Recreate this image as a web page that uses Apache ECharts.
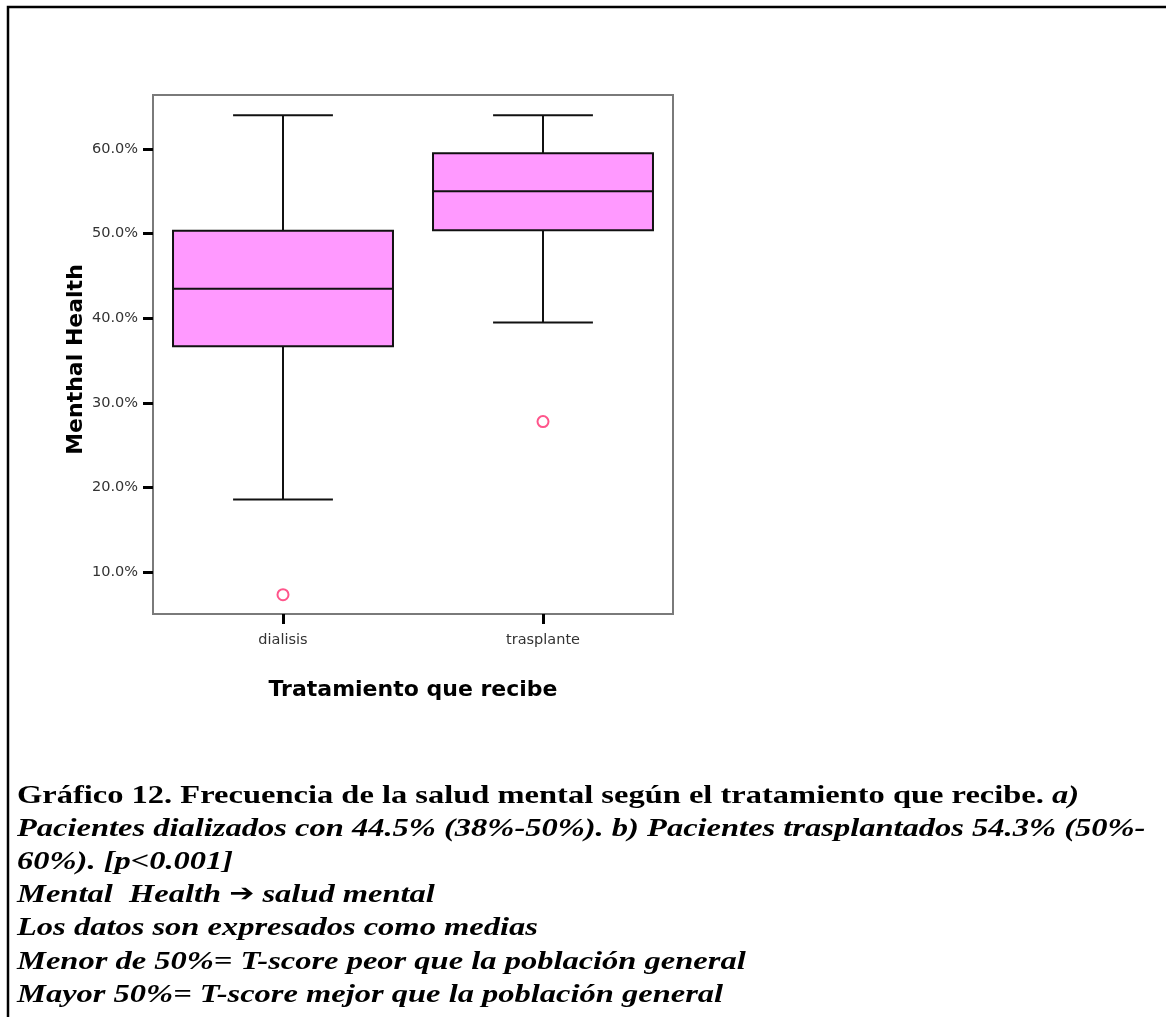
<!DOCTYPE html>
<html>
<head>
<meta charset="utf-8">
<title>Salud mental según tratamiento</title>
<script src="https://cdn.jsdelivr.net/npm/echarts@6/dist/echarts.min.js"></script>
<style>
  html, body { margin: 0; padding: 0; background: #fff; }
  #chart { width: 1166px; height: 1017px; }
</style>
</head>
<body>
<div id="chart"></div>
<script>
// Five-number summaries per treatment group (percent)
const categories = ['dialisis', 'trasplante'];
const whiskerLow = [18.6, 39.5];
const quartile1 = [36.7, 50.4];
const medians = [43.5, 55.0];
const quartile3 = [50.35, 59.5];
const whiskerHigh = [64.0, 64.0];

// Outlying cases
const outlierCategory = [0, 1];
const outlierValue = [7.35, 27.8];

// Value axis ticks and extent
const yTicks = [10, 20, 30, 40, 50, 60];
const yMin = 5.07;
const yMax = 66.38;

// Caption lines
const captionLines = [
  [['b', 'Gráfico 12. Frecuencia de la salud mental según el tratamiento que recibe. '], ['bi', 'a)']],
  [['bi', 'Pacientes dializados con 44.5% (38%-50%). b) Pacientes trasplantados 54.3% (50%-']],
  [['bi', '60%). [p<0.001]']],
  [['bi', 'Mental  Health '], ['arrow', '➔'], ['bi', ' salud mental']],
  [['bi', 'Los datos son expresados como medias']],
  [['bi', 'Menor de 50%= T-score peor que la población general']],
  [['bi', 'Mayor 50%= T-score mejor que la población general']]
];

const boxData = categories.map((c, i) => [i, whiskerLow[i], quartile1[i], medians[i], quartile3[i], whiskerHigh[i]]);
const outlierData = outlierCategory.map((c, i) => [c, outlierValue[i]]);

const chart = echarts.init(document.getElementById('chart'), null, { renderer: 'canvas' });

function renderBox(params, api) {
  const i = api.value(0);
  const band = api.size([1, 0])[0];
  const x = api.coord([i, api.value(3)])[0];
  const yLow = api.coord([i, api.value(1)])[1];
  const yQ1 = api.coord([i, api.value(2)])[1];
  const yMed = api.coord([i, api.value(3)])[1];
  const yQ3 = api.coord([i, api.value(4)])[1];
  const yHigh = api.coord([i, api.value(5)])[1];
  const halfBox = band * 0.423;
  const halfCap = band * 0.192;
  const line = { stroke: '#111', lineWidth: 2 };
  return {
    type: 'group',
    children: [
      { type: 'line', shape: { x1: x, y1: yQ3, x2: x, y2: yHigh }, style: line },
      { type: 'line', shape: { x1: x, y1: yQ1, x2: x, y2: yLow }, style: line },
      { type: 'line', shape: { x1: x - halfCap, y1: yHigh, x2: x + halfCap, y2: yHigh }, style: line },
      { type: 'line', shape: { x1: x - halfCap, y1: yLow, x2: x + halfCap, y2: yLow }, style: line },
      { type: 'rect', shape: { x: x - halfBox, y: yQ3, width: halfBox * 2, height: yQ1 - yQ3 },
        style: { fill: '#ff99ff', stroke: '#111', lineWidth: 2 } },
      { type: 'line', shape: { x1: x - halfBox, y1: yMed, x2: x + halfBox, y2: yMed }, style: line }
    ]
  };
}

const captionStyles = {
  b: { fontFamily: 'Liberation Serif', fontWeight: 'bold', fontSize: 26, fill: '#000' },
  bi: { fontFamily: 'Liberation Serif', fontWeight: 'bold', fontStyle: 'italic', fontSize: 26, fill: '#000' },
  arrow: { fontFamily: 'DejaVu Sans', fontWeight: 'bold', fontSize: 24, fill: '#000' }
};
const captionBaselines = [806, 839, 872, 905, 938, 972, 1005];

// Caption lines are drawn wide (horizontally stretched serif)
const captionGraphics = captionLines.map((parts, li) => ({
  type: 'text',
  x: 17,
  y: captionBaselines[li] - 23,
  scaleX: 1.25,
  style: {
    text: parts.map(p => '{' + p[0] + '|' + p[1] + '}').join(''),
    rich: captionStyles,
    font: 'bold 26px "Liberation Serif"'
  }
}));

chart.setOption({
  animation: false,
  backgroundColor: '#fff',
  grid: {
    left: 153, top: 95, width: 520, height: 519,
    show: true, borderColor: '#7a7a7a', borderWidth: 2, backgroundColor: '#fff'
  },
  xAxis: {
    type: 'category',
    data: categories,
    boundaryGap: true,
    axisLine: { show: false },
    axisTick: { show: true, alignWithLabel: true, length: 10, lineStyle: { color: '#000', width: 3 } },
    axisLabel: { margin: 19, fontFamily: 'DejaVu Sans', fontSize: 14.5, color: '#333' },
    name: 'Tratamiento que recibe',
    nameLocation: 'middle',
    nameGap: 65,
    nameTextStyle: { fontFamily: 'DejaVu Sans', fontWeight: 'bold', fontSize: 22, color: '#000' },
    splitLine: { show: false }
  },
  yAxis: {
    type: 'value',
    min: yMin,
    max: yMax,
    axisLine: { show: false },
    axisTick: { show: true, length: 10, customValues: yTicks, lineStyle: { color: '#000', width: 3 } },
    axisLabel: {
      margin: 15, fontFamily: 'DejaVu Sans', fontSize: 14.5, color: '#333',
      customValues: yTicks,
      formatter: v => v.toFixed(1) + '%'
    },
    splitLine: { show: false },
    name: 'Menthal Health',
    nameLocation: 'middle',
    nameRotate: 90,
    nameGap: 66,
    nameTextStyle: {
      fontFamily: 'DejaVu Sans', fontWeight: 'bold', fontSize: 22, color: '#000',
      padding: [0, 10, 0, 0]
    }
  },
  series: [
    {
      type: 'custom',
      renderItem: renderBox,
      data: boxData,
      encode: { x: 0, y: [1, 2, 3, 4, 5] },
      z: 2
    },
    {
      type: 'scatter',
      data: outlierData,
      symbol: 'circle',
      symbolSize: 11,
      itemStyle: { color: '#fff', borderColor: '#ff2a6e', borderWidth: 2 },
      z: 3
    }
  ],
  graphic: [
    {
      type: 'rect',
      shape: { x: 8, y: 7, width: 1300, height: 1200 },
      style: { fill: null, stroke: '#000', lineWidth: 2.5 },
      silent: true
    }
  ].concat(captionGraphics)
});
</script>
</body>
</html>
